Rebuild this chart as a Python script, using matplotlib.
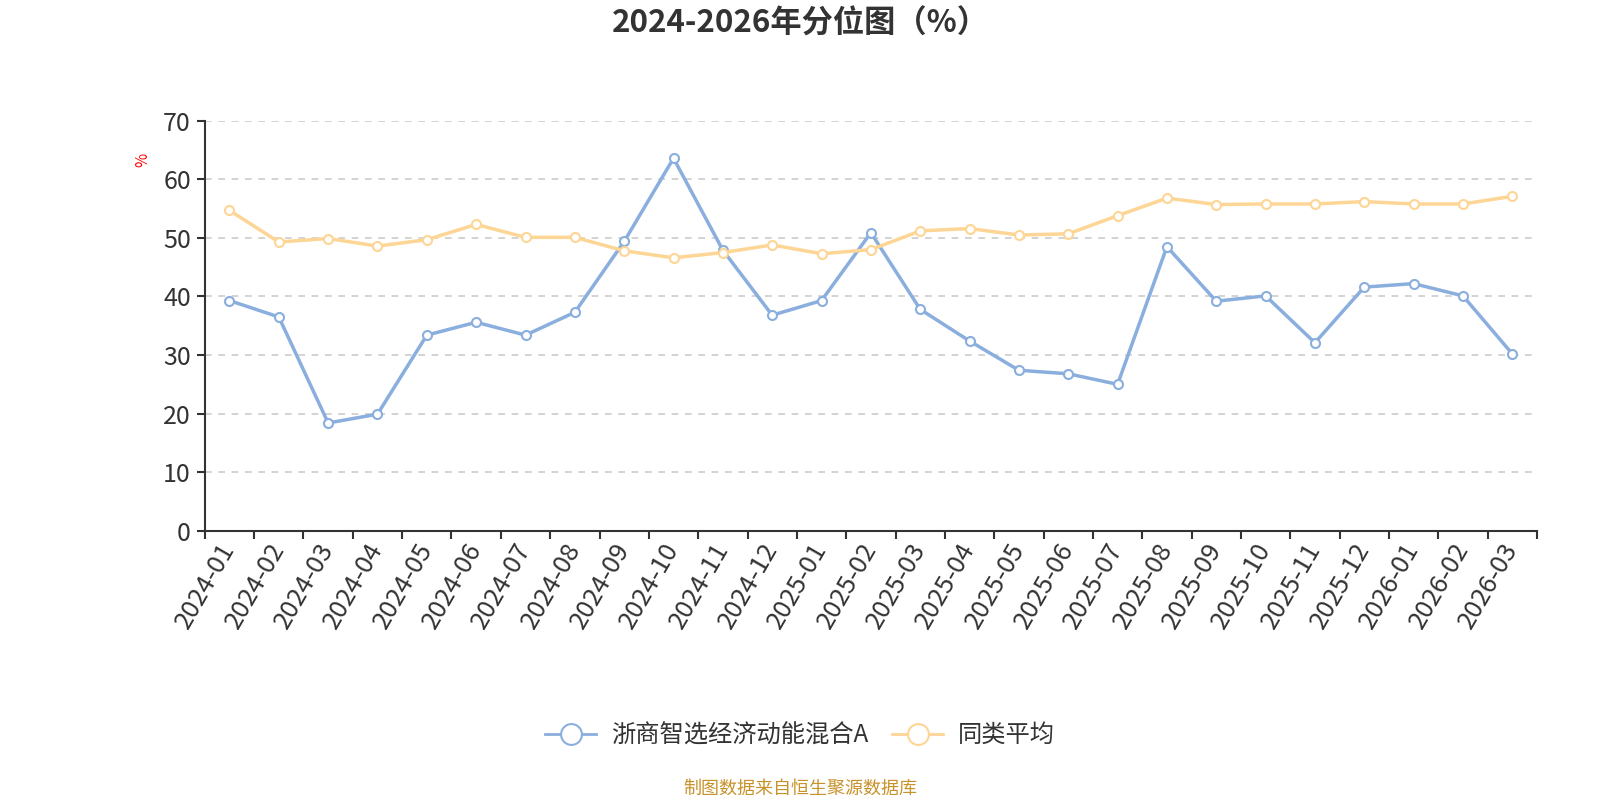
import numpy as np
import matplotlib.pyplot as plt
from matplotlib.lines import Line2D

plt.rcParams['font.family'] = ['Noto Sans CJK SC', 'DejaVu Sans']

# Data
months = ['2024-01', '2024-02', '2024-03', '2024-04', '2024-05', '2024-06', '2024-07',
          '2024-08', '2024-09', '2024-10', '2024-11', '2024-12', '2025-01', '2025-02',
          '2025-03', '2025-04', '2025-05', '2025-06', '2025-07', '2025-08', '2025-09',
          '2025-10', '2025-11', '2025-12', '2026-01', '2026-02', '2026-03']
fund = [39.3, 36.5, 18.4, 19.9, 33.4, 35.6, 33.4, 37.3, 49.4, 63.6, 47.9, 36.8, 39.3, 50.9,
        37.8, 32.4, 27.4, 26.8, 25.0, 48.5, 39.2, 40.1, 32.1, 41.6, 42.2, 40.1, 30.2]
peer_avg = [54.7, 49.3, 49.9, 48.6, 49.7, 52.3, 50.1, 50.1, 47.8, 46.6, 47.5, 48.8, 47.3, 48.0,
            51.2, 51.6, 50.5, 50.7, 53.8, 56.8, 55.7, 55.8, 55.8, 56.2, 55.8, 55.8, 57.1]
fund_name = '浙商智选经济动能混合A'
avg_name = '同类平均'

blue = '#8aaedd'
orange = '#fdd595'
dark = '#333333'

fig = plt.figure(figsize=(16, 8), dpi=100)
ax = fig.add_axes([0.128, 0.3366, 0.8326, 0.5124])

x = np.arange(len(months))
ax.plot(x, fund, color=blue, lw=2.5, marker='o', ms=6.5, mfc='white', mec=blue, mew=1.5, zorder=3)
ax.plot(x, peer_avg, color=orange, lw=2.5, marker='o', ms=6.5, mfc='white', mec=orange, mew=1.5, zorder=3)

ax.set_xlim(-0.5, len(months) - 0.5)
ax.set_ylim(0, 70)
ax.set_yticks(np.arange(0, 71, 10))
ax.yaxis.grid(True, linestyle=(0, (4, 4)), color='#cccccc', lw=1.2)
ax.set_axisbelow(True)

# labels at category centres, tick marks at boundaries
ax.set_xticks(x)
ax.set_xticklabels(months, rotation=60, ha='right', va='center', rotation_mode='anchor')
ax.set_xticks(np.arange(-0.5, len(months)), minor=True)
ax.tick_params(axis='x', which='major', length=0, pad=10, labelsize=18.5, labelcolor=dark)
ax.tick_params(axis='x', which='minor', length=6, width=1.5, color=dark)
ax.tick_params(axis='y', length=6, width=1.5, color=dark, labelsize=18, labelcolor=dark, pad=4)

for s in ['top', 'right']:
    ax.spines[s].set_visible(False)
for s in ['left', 'bottom']:
    ax.spines[s].set_color(dark)
    ax.spines[s].set_linewidth(1.5)

fig.text(0.089, 0.80, '%', color='red', fontsize=11, rotation=90, ha='center', va='center')

fig.text(0.5, 0.971, '2024-2026年分位图（%）', ha='center', va='center',
         fontsize=22.5, fontweight='bold', color=dark)

handles = [Line2D([], [], color=blue, lw=2, marker='o', ms=15, mfc='white', mec=blue, mew=1.5),
           Line2D([], [], color=orange, lw=2, marker='o', ms=15, mfc='white', mec=orange, mew=1.5)]
leg = fig.legend(handles, [fund_name, avg_name], loc='center', bbox_to_anchor=(0.5, 0.081),
                 ncol=2, frameon=False, fontsize=17.5, handlelength=2.1, columnspacing=1.0,
                 handletextpad=0.6)
for t in leg.get_texts():
    t.set_color(dark)

fig.text(0.5, 0.014, '制图数据来自恒生聚源数据库', color='#c8922a', fontsize=13, ha='center', va='center')

plt.savefig('out.png', dpi=100)
